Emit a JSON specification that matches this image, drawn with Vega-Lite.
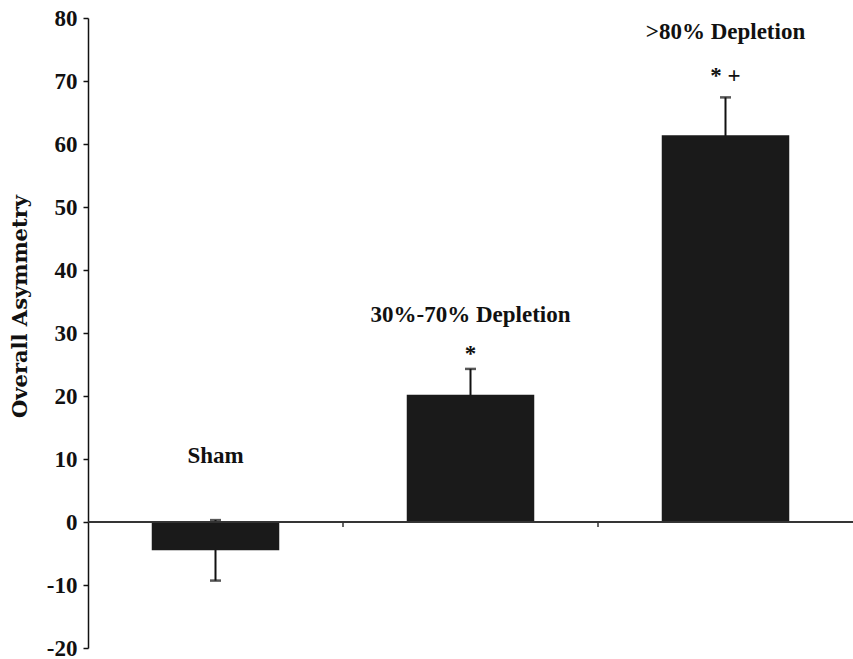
{
  "$schema": "https://vega.github.io/schema/vega-lite/v6.json",
  "autosize": "none",
  "width": 765,
  "height": 630,
  "padding": {"left": 88, "top": 18, "right": 0, "bottom": 11},
  "background": "white",
  "config": {"view": {"stroke": null}},
  "datasets": {
    "groups": [
      {"group": "Sham", "mean": -4.5, "lo": -9.3, "hi": 0.3},
      {"group": "30%-70% Depletion", "mean": 20.2, "lo": 16.1, "hi": 24.3},
      {"group": ">80% Depletion", "mean": 61.4, "lo": 55.4, "hi": 67.4}
    ],
    "labels": [
      {"group": "Sham", "text": "Sham", "ly": 9.4},
      {"group": "30%-70% Depletion", "text": "30%-70% Depletion", "ly": 31.7},
      {"group": "30%-70% Depletion", "text": "*", "ly": 25.5},
      {"group": ">80% Depletion", "text": ">80% Depletion", "ly": 76.7},
      {"group": ">80% Depletion", "text": "* +", "ly": 69.7}
    ],
    "bounds": [
      {"group": "Sham"},
      {"group": "30%-70% Depletion"}
    ]
  },
  "layer": [
    {
      "data": {"name": "groups"},
      "mark": {"type": "rule", "color": "#111111", "strokeWidth": 2},
      "encoding": {
        "x": {
          "field": "group",
          "type": "nominal",
          "sort": null,
          "scale": {"paddingInner": 0.5, "paddingOuter": 0.25},
          "axis": null
        },
        "y": {
          "field": "lo",
          "type": "quantitative",
          "scale": {"domain": [-20, 80], "nice": false, "zero": false},
          "axis": {
            "title": "Overall Asymmetry",
            "values": [-20, -10, 0, 10, 20, 30, 40, 50, 60, 70, 80],
            "labelExpr": "'' + datum.value",
            "grid": false,
            "domainColor": "#111111",
            "domainWidth": 1.5,
            "tickColor": "#111111",
            "tickSize": 5,
            "tickWidth": 1.5,
            "labelFont": "Liberation Serif",
            "labelFontWeight": "bold",
            "labelFontSize": 23,
            "labelColor": "#111111",
            "labelPadding": 6,
            "labelFlush": false,
            "titleFont": "DejaVu Serif",
            "titleFontWeight": "bold",
            "titleFontSize": 21,
            "titleColor": "#111111",
            "titlePadding": 16,
            "titleY": 288
          }
        },
        "y2": {"field": "hi"}
      }
    },
    {
      "data": {"name": "groups"},
      "mark": {"type": "tick", "color": "#111111", "orient": "horizontal", "size": 11, "thickness": 2.5},
      "encoding": {
        "x": {"field": "group", "type": "nominal", "sort": null},
        "y": {"field": "hi", "type": "quantitative"}
      }
    },
    {
      "data": {"name": "groups"},
      "mark": {"type": "tick", "color": "#111111", "orient": "horizontal", "size": 11, "thickness": 2.5},
      "encoding": {
        "x": {"field": "group", "type": "nominal", "sort": null},
        "y": {"field": "lo", "type": "quantitative"}
      }
    },
    {
      "data": {"name": "groups"},
      "mark": {"type": "bar", "color": "#1a1a1a"},
      "encoding": {
        "x": {"field": "group", "type": "nominal", "sort": null},
        "y": {"field": "mean", "type": "quantitative"}
      }
    },
    {
      "data": {"name": "groups"},
      "mark": {"type": "rule", "color": "#333333", "strokeWidth": 1.5},
      "encoding": {
        "y": {"datum": 0, "type": "quantitative"}
      }
    },
    {
      "data": {"name": "bounds"},
      "mark": {"type": "rule", "color": "#333333", "strokeWidth": 1.5},
      "encoding": {
        "x": {"field": "group", "type": "nominal", "sort": null, "bandPosition": 1.5},
        "y": {"datum": 0, "type": "quantitative"},
        "y2": {"datum": -0.8}
      }
    },
    {
      "data": {"name": "labels"},
      "mark": {"type": "text", "font": "Liberation Serif", "fontWeight": "bold", "fontSize": 23, "color": "#111111", "align": "center", "baseline": "alphabetic"},
      "encoding": {
        "x": {"field": "group", "type": "nominal", "sort": null},
        "y": {"field": "ly", "type": "quantitative"},
        "text": {"field": "text"}
      }
    }
  ]
}
